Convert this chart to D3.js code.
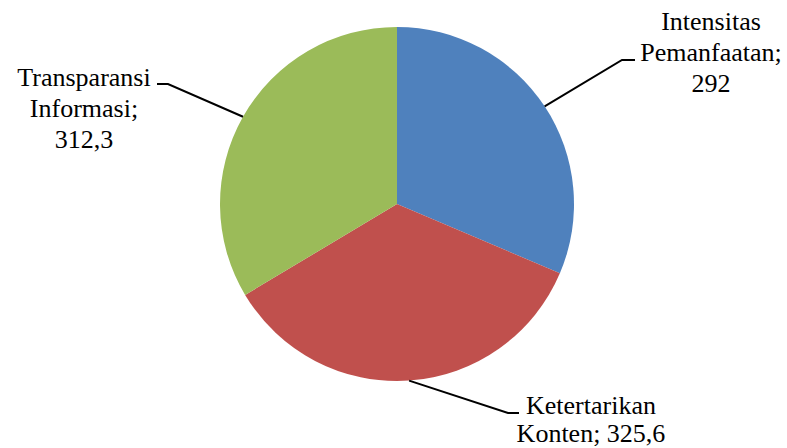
<!DOCTYPE html>
<html>
<head>
<meta charset="utf-8">
<script src="https://cdn.jsdelivr.net/npm/d3@7"></script>
<style>
html,body{margin:0;padding:0;background:#fff;}
svg text, svg text tspan, .lbl{font-family:"Liberation Serif", "Times New Roman", Times, serif !important;font-size:26px !important;}
</style>
</head>
<body>
<svg id="chart" width="787" height="448"></svg>
<script>
const categories = ["Intensitas Pemanfaatan", "Ketertarikan Konten", "Transparansi Informasi"];
const values = [292, 325.6, 312.3];
const valueLabels = ["292", "325,6", "312,3"];
const labelLines = [
  ["Intensitas", "Pemanfaatan;", "292"],
  ["Ketertarikan", "Konten; 325,6"],
  ["Transparansi", "Informasi;", "312,3"]
];
const colors = ["#4F81BD", "#C0504D", "#9BBB59"];

const svg = d3.select("#chart");
const cx = 397, cy = 204, R = 177;
const g = svg.append("g").attr("transform", `translate(${cx},${cy})`);

const pie = d3.pie().sort(null).value(d => d)(values);
const arc = d3.arc().innerRadius(0).outerRadius(R);

g.selectAll("path.slice").data(pie).enter().append("path")
  .attr("class", "slice")
  .attr("d", arc)
  .attr("fill", (d, i) => colors[i]);

const labelLayout = [
  {elbow: [622, 60], end: [635, 60], tx: 711, ty: 30, lh: 31},
  {elbow: [508, 413], end: [519, 413], tx: 591, ty: 414, lh: 28},
  {elbow: [168, 84], end: [157, 84], tx: 84, ty: 86, lh: 31}
];

pie.forEach((d, i) => {
  const a = (d.startAngle + d.endAngle) / 2;
  const sx = cx + R * Math.sin(a), sy = cy - R * Math.cos(a);
  const L = labelLayout[i];
  svg.append("polyline")
    .attr("points", `${sx},${sy} ${L.elbow[0]},${L.elbow[1]} ${L.end[0]},${L.end[1]}`)
    .attr("fill", "none").attr("stroke", "#000").attr("stroke-width", 2);
  labelLines[i].forEach((ln, j) => {
    svg.append("text")
      .attr("class", "lbl")
      .attr("x", L.tx).attr("y", L.ty + j * L.lh)
      .attr("text-anchor", "middle")
      .attr("font-family", "Liberation Serif")
      .attr("fill", "#000")
      .text(ln);
  });
});
</script>
</body>
</html>
